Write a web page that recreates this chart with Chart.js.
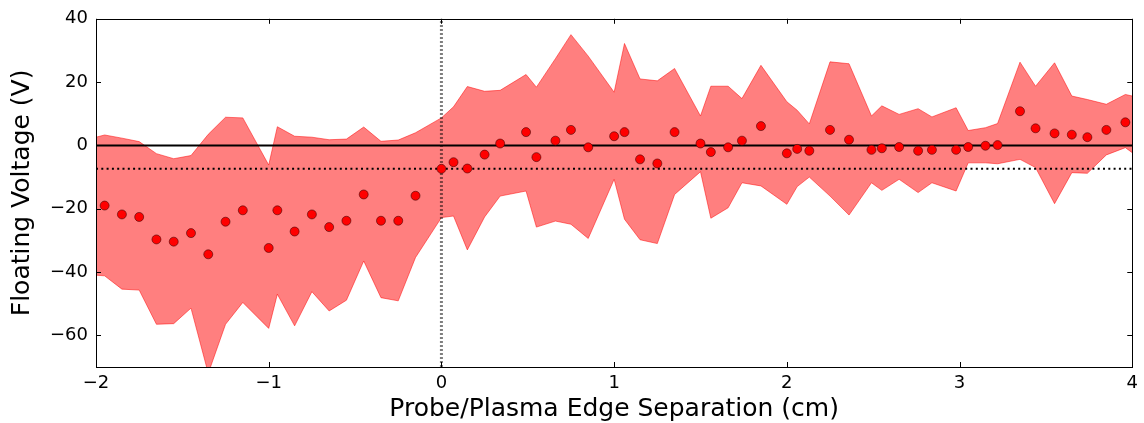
<!DOCTYPE html>
<html lang="en">
<head>
    <meta charset="UTF-8">
    <title>Floating Voltage vs Separation</title>
    <style>
        html, body { margin: 0; padding: 0; background: #fff; }
        .grafico { width: 1144px; height: 423px; }
    </style>
</head>
<body>
    <div class="grafico">
        <canvas id="myChart" width="1144" height="423"></canvas>
    </div>

<script src="https://cdn.jsdelivr.net/npm/chart.js"></script>
<script>
    // probe positions (cm) and mean floating voltage (V)
    const posicoes = [-1.95, -1.85, -1.75, -1.65, -1.55, -1.45, -1.35, -1.25, -1.15, -1.0,
        -0.95, -0.85, -0.75, -0.65, -0.55, -0.45, -0.35, -0.25, -0.15, 0.0,
        0.07, 0.15, 0.25, 0.34, 0.49, 0.55, 0.66, 0.75, 0.85, 1.0,
        1.06, 1.15, 1.25, 1.35, 1.5, 1.56, 1.66, 1.74, 1.85, 2.0,
        2.06, 2.13, 2.25, 2.36, 2.49, 2.55, 2.65, 2.76, 2.84, 2.98,
        3.05, 3.15, 3.22, 3.35, 3.44, 3.55, 3.65, 3.74, 3.85, 3.96];
    const tensaoMedia = [-19.0, -21.8, -22.6, -29.7, -30.4, -27.7, -34.4, -24.1, -20.5, -32.4,
        -20.5, -27.2, -21.8, -25.8, -23.8, -15.5, -23.8, -23.8, -15.9, -7.4,
        -5.3, -7.3, -2.9, 0.6, 4.2, -3.7, 1.5, 4.9, -0.6, 2.9,
        4.2, -4.4, -5.7, 4.2, 0.6, -2.1, -0.6, 1.5, 6.1, -2.5,
        -1.1, -1.7, 4.9, 1.8, -1.4, -0.9, -0.5, -1.7, -1.4, -1.4,
        -0.5, -0.1, 0.1, 10.8, 5.4, 3.8, 3.4, 2.6, 4.9, 7.3];

    // spread band (max / min), runs edge to edge
    const faixaX = [-2.0].concat(posicoes, [4.0]);
    const faixaMax = [2.6, 3.3, 2.3, 1.2, -2.6, -4.2, -3.2, 3.5, 8.9, 8.7, -6.2,
        5.9, 2.9, 2.6, 1.8, 2.0, 5.8, 1.3, 1.7, 4.0, 8.7,
        12.2, 18.6, 17.1, 17.4, 22.4, 18.4, 27.4, 35.0, 28.2, 16.8,
        32.2, 21.0, 20.4, 24.3, 9.3, 18.7, 18.7, 14.8, 25.3, 13.8,
        11.1, 6.8, 26.4, 25.8, 9.3, 12.5, 9.8, 11.6, 9.0, 11.9,
        4.7, 5.6, 6.9, 26.3, 18.7, 26.1, 15.6, 14.5, 13.0, 16.1, 15.6];
    const faixaMin = [-41.0, -41.2, -45.4, -45.7, -56.5, -56.3, -51.4, -72.0, -56.5, -49.6, -57.8,
        -47.0, -57.0, -46.2, -52.3, -48.9, -36.5, -48.1, -49.1, -35.4, -22.8,
        -22.3, -33.0, -22.6, -16.0, -14.4, -25.8, -23.9, -24.9, -29.4, -10.7,
        -23.3, -29.8, -31.0, -15.5, -8.3, -23.0, -19.7, -11.8, -12.8, -18.6,
        -13.0, -10.0, -16.0, -22.0, -11.8, -14.2, -10.7, -14.9, -11.8, -14.4,
        -5.5, -5.5, -5.8, -4.4, -7.0, -18.4, -8.6, -8.8, -3.0, -0.7, -2.3];

    const nivelZero = 0;
    const nivelMedio = -7.4;
    const bordaPlasma = 0;

    const ticksX = [-2, -1, 0, 1, 2, 3, 4];
    const ticksY = [-60, -40, -20, 0, 20, 40];

    const fonte = "'DejaVu Sans', sans-serif";

    function pares(xs, ys) {
        return xs.map((x, i) => ({ x: x, y: ys[i] }));
    }

    function formatarMenos(v) {
        return String(v).replace('-', '\u2212');
    }

    // box around the plot with inward ticks on all four sides
    const moldura = {
        id: 'moldura',
        afterDatasetsDraw(chart) {
            const { ctx, chartArea: a, scales } = chart;
            const t = 5;
            ctx.save();
            ctx.strokeStyle = '#000';
            ctx.lineWidth = 1;
            ctx.beginPath();
            scales.x.ticks.forEach(tk => {
                const px = Math.round(scales.x.getPixelForValue(tk.value)) + 0.5;
                ctx.moveTo(px, a.bottom); ctx.lineTo(px, a.bottom - t);
                ctx.moveTo(px, a.top); ctx.lineTo(px, a.top + t);
            });
            scales.y.ticks.forEach(tk => {
                const py = Math.round(scales.y.getPixelForValue(tk.value)) + 0.5;
                ctx.moveTo(a.left, py); ctx.lineTo(a.left + t, py);
                ctx.moveTo(a.right, py); ctx.lineTo(a.right - t, py);
            });
            ctx.stroke();
            ctx.strokeRect(Math.round(a.left) + 0.5, Math.round(a.top) + 0.5,
                Math.round(a.right - a.left), Math.round(a.bottom - a.top));
            ctx.restore();
        }
    };

    const ctx = document.getElementById('myChart').getContext('2d');
    new Chart(ctx, {
        type: 'scatter',
        data: {
            datasets: [
                {
                    label: 'max',
                    type: 'line',
                    data: pares(faixaX, faixaMax),
                    borderColor: 'rgba(255, 0, 0, 0.5)',
                    borderWidth: 1,
                    backgroundColor: 'rgba(255, 0, 0, 0.5)',
                    pointRadius: 0,
                    fill: '+1',
                    tension: 0,
                    order: 5
                },
                {
                    label: 'min',
                    type: 'line',
                    data: pares(faixaX, faixaMin),
                    borderColor: 'rgba(255, 0, 0, 0.5)',
                    borderWidth: 1,
                    pointRadius: 0,
                    fill: false,
                    tension: 0,
                    order: 4
                },
                {
                    label: 'zero',
                    type: 'line',
                    data: [{ x: -2, y: nivelZero }, { x: 4, y: nivelZero }],
                    borderColor: '#000',
                    borderWidth: 2,
                    pointRadius: 0,
                    fill: false,
                    order: 3
                },
                {
                    label: 'media',
                    type: 'line',
                    data: [{ x: -2, y: nivelMedio }, { x: 4, y: nivelMedio }],
                    borderColor: '#000',
                    borderWidth: 2,
                    borderDash: [2, 3.3],
                    pointRadius: 0,
                    fill: false,
                    order: 2
                },
                {
                    label: 'borda',
                    type: 'line',
                    data: [{ x: bordaPlasma, y: -70 }, { x: bordaPlasma, y: 40 }],
                    borderColor: 'rgba(0, 0, 0, 0.5)',
                    borderWidth: 3,
                    borderDash: [2, 2],
                    pointRadius: 0,
                    fill: false,
                    order: 1
                },
                {
                    label: 'tensao',
                    data: pares(posicoes, tensaoMedia),
                    backgroundColor: '#ff0000',
                    borderColor: 'rgba(60, 0, 0, 0.8)',
                    borderWidth: 0.7,
                    pointRadius: 4.5,
                    order: 0
                }
            ]
        },
        options: {
            responsive: false,
            animation: false,
            layout: { padding: { top: 18, right: 11, left: 0, bottom: 0 } },
            plugins: {
                legend: { display: false },
                tooltip: { enabled: false }
            },
            scales: {
                x: {
                    type: 'linear',
                    min: -2,
                    max: 4,
                    grid: { display: false, drawTicks: false },
                    border: { display: false },
                    afterBuildTicks: s => { s.ticks = ticksX.map(v => ({ value: v })); },
                    afterFit: s => { s.height = 56; },
                    ticks: {
                        color: '#000',
                        padding: 6,
                        maxRotation: 0,
                        font: { family: fonte, size: 18 },
                        callback: v => formatarMenos(v)
                    },
                    title: {
                        display: true,
                        text: 'Probe/Plasma Edge Separation (cm)',
                        color: '#000',
                        font: { family: fonte, size: 25 },
                        padding: { top: 0, bottom: -1 }
                    }
                },
                y: {
                    type: 'linear',
                    min: -70,
                    max: 40,
                    grid: { display: false, drawTicks: false },
                    border: { display: false },
                    afterBuildTicks: s => { s.ticks = ticksY.map(v => ({ value: v })); },
                    afterFit: s => { s.width = 96; },
                    ticks: {
                        color: '#000',
                        padding: 8,
                        font: { family: fonte, size: 18 },
                        callback: v => formatarMenos(v)
                    },
                    title: {
                        display: true,
                        text: 'Floating Voltage (V)',
                        color: '#000',
                        font: { family: fonte, size: 25 },
                        padding: { top: 7, bottom: 0 }
                    }
                }
            }
        },
        plugins: [moldura]
    });
</script>
</body>
</html>
